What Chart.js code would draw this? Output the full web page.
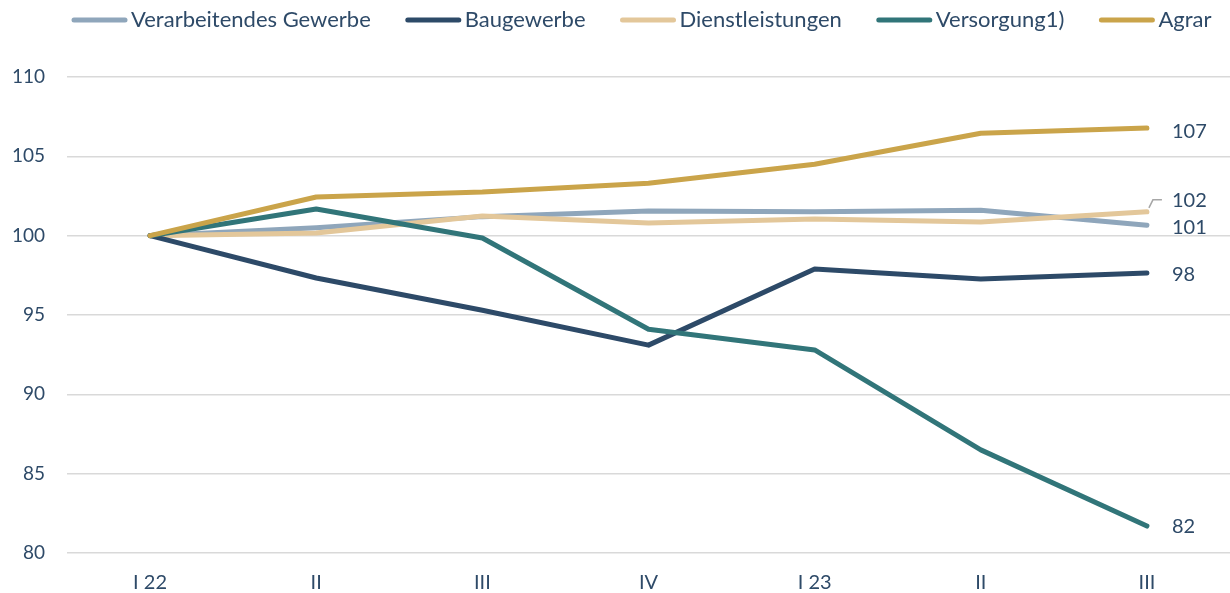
<!DOCTYPE html>
<html>
<head>
<meta charset="utf-8">
<script src="https://cdn.jsdelivr.net/npm/chart.js@4/dist/chart.umd.min.js"></script>
<style>
  html, body { margin: 0; padding: 0; background: #fff; }
  #wrap { width: 1230px; height: 593px; }
</style>
</head>
<body>
<div id="wrap"><canvas id="chart"></canvas></div>
<script>
// quarters
const labels = ["I 22", "II", "III", "IV", "I 23", "II", "III"];

const verarbeitendes = [100, 100.5, 101.2, 101.55, 101.5, 101.6, 100.65];
const baugewerbe = [100, 97.33, 95.3, 93.1, 97.9, 97.27, 97.65];
const dienstleistungen = [100, 100.17, 101.24, 100.8, 101.05, 100.86, 101.5];
const versorgung = [100, 101.68, 99.85, 94.1, 92.8, 86.5, 81.7];
const agrar = [100, 102.44, 102.75, 103.3, 104.5, 106.45, 106.78];

// end labels shown right of the last point
const endLabels = ["101", "98", "102", "82", "107"];

const textColor = "#2E4A68";
const fontFamily = "Lato, 'Noto Sans', sans-serif";

function series(label, data, color, order) {
    return {
        label: label,
        data: data,
        borderColor: color,
        backgroundColor: color,
        borderWidth: 5,
        borderCapStyle: "round",
        borderJoinStyle: "round",
        pointRadius: 0,
        tension: 0,
        fill: false,
        order: order,
    };
}

// legend drawn by hand: short thick line, then the name right after it
const legendPlugin = {
    id: "lineLegend",
    afterDraw(chart) {
        const ctx = chart.ctx;
        ctx.save();
        ctx.font = "22px " + fontFamily;
        ctx.textBaseline = "middle";
        ctx.lineCap = "round";
        let x = 74;
        const y = 20;
        chart.data.datasets.forEach(ds => {
            ctx.strokeStyle = ds.borderColor;
            ctx.lineWidth = 5;
            ctx.beginPath();
            ctx.moveTo(x, y);
            ctx.lineTo(x + 51, y);
            ctx.stroke();
            ctx.fillStyle = textColor;
            ctx.fillText(ds.label, x + 57, y);
            x += 57 + ctx.measureText(ds.label).width + 37;
        });
        ctx.restore();
    }
};

const endLabelPlugin = {
    id: "endLabels",
    afterDatasetsDraw(chart) {
        const ctx = chart.ctx;
        const shifts = [2, 2, -11, 1, 3];
        ctx.save();
        ctx.font = "20px " + fontFamily;
        ctx.fillStyle = textColor;
        ctx.textBaseline = "middle";
        ctx.textAlign = "left";
        chart.data.datasets.forEach((ds, i) => {
            const meta = chart.getDatasetMeta(i);
            const pt = meta.data[meta.data.length - 1];
            ctx.fillText(endLabels[i], pt.x + 25, pt.y + shifts[i]);
        });
        // leader line for the 102 label
        const m = chart.getDatasetMeta(2);
        const p = m.data[m.data.length - 1];
        ctx.strokeStyle = "#A6A6A6";
        ctx.lineWidth = 1.5;
        ctx.beginPath();
        ctx.moveTo(p.x + 2, p.y - 4);
        ctx.lineTo(p.x + 6, p.y - 12);
        ctx.lineTo(p.x + 15, p.y - 12);
        ctx.stroke();
        ctx.restore();
    }
};

new Chart(document.getElementById("chart"), {
    type: "line",
    data: {
        labels: labels,
        datasets: [
            series("Verarbeitendes Gewerbe", verarbeitendes, "#8FA6BB", 4),
            series("Baugewerbe", baugewerbe, "#2D4A68", 2),
            series("Dienstleistungen", dienstleistungen, "#E3C79A", 3),
            series("Versorgung1)", versorgung, "#317579", 1),
            series("Agrar", agrar, "#CAA44A", 0),
        ],
    },
    options: {
        responsive: true,
        maintainAspectRatio: false,
        animation: false,
        layout: { padding: { top: 77, right: 0, bottom: 0, left: 0 } },
        plugins: {
            tooltip: { enabled: false },
            legend: { display: false },
        },
        scales: {
            x: {
                offset: true,
                afterFit(scale) { scale.height = 40; },
                grid: { display: false, drawTicks: false },
                border: { display: false },
                ticks: {
                    color: textColor,
                    font: { family: fontFamily, size: 20 },
                    padding: 18,
                },
            },
            y: {
                min: 80,
                max: 110,
                afterFit(scale) { scale.width = 67; },
                grid: { color: "#D9D9D9", lineWidth: 1.5, drawTicks: false },
                border: { display: false },
                ticks: {
                    stepSize: 5,
                    color: textColor,
                    font: { family: fontFamily, size: 19 },
                    padding: 22,
                },
            },
        },
    },
    plugins: [endLabelPlugin, legendPlugin],
});
</script>
</body>
</html>
